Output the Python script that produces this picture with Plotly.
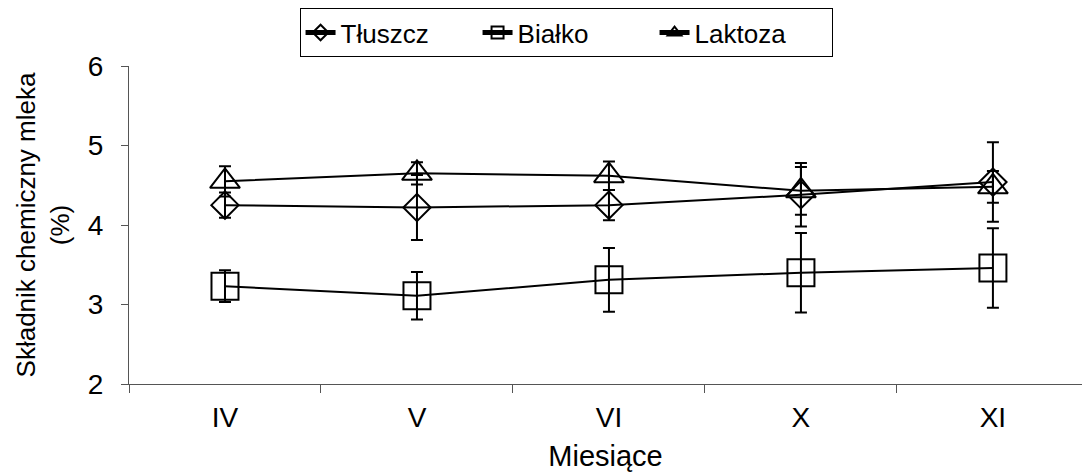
import plotly.graph_objects as go

months = ["IV", "V", "VI", "X", "XI"]
fat = [4.25, 4.22, 4.25, 4.38, 4.54]
fat_err = [0.16, 0.41, 0.19, 0.40, 0.50]
protein = [3.23, 3.11, 3.31, 3.40, 3.46]
protein_err = [0.20, 0.30, 0.40, 0.50, 0.50]
lactose = [4.55, 4.65, 4.62, 4.43, 4.48]
lactose_err = [0.19, 0.14, 0.18, 0.30, 0.20]

names = ["Tłuszcz", "Białko", "Laktoza"]
series = [fat, protein, lactose]
errors = [fat_err, protein_err, lactose_err]
symbols = ["diamond-open", "square-open", "triangle-up-open"]
sizes = [21, 27, 26]

FONT = "Liberation Sans, Arial, sans-serif"

fig = go.Figure()
for n, y, e, s, sz in zip(names, series, errors, symbols, sizes):
    fig.add_trace(go.Scatter(
        x=months, y=y, name=n, mode="lines+markers",
        line=dict(color="black", width=2),
        marker=dict(symbol=s, size=sz, color="black", line=dict(color="black", width=2)),
        error_y=dict(type="data", array=e, visible=True, color="black", thickness=2, width=6),
    ))

fig.update_layout(
    width=1082, height=475,
    margin=dict(l=129, r=0, t=66, b=91),
    plot_bgcolor="white", paper_bgcolor="white",
    font=dict(family=FONT, size=26, color="black"),
    showlegend=True,
    legend=dict(
        orientation="h", x=0.4586, xanchor="center", y=1.182, yanchor="top",
        bordercolor="black", borderwidth=1, bgcolor="white",
        font=dict(size=26), itemsizing="constant", entrywidth=132,
    ),
    xaxis=dict(
        type="category", range=[-0.5, 4.464], tickson="boundaries",
        ticks="outside", ticklen=8, tickcolor="#555", showline=True,
        linecolor="#555", linewidth=1, showgrid=False, zeroline=False,
        tickfont=dict(size=28), ticklabelstandoff=8,
        title=dict(text="Miesiące", font=dict(size=29), standoff=14),
    ),
    yaxis=dict(
        range=[2, 6], tickvals=[2, 3, 4, 5, 6], ticks="outside", ticklen=7,
        tickcolor="#555", showline=True, linecolor="#555", linewidth=1,
        showgrid=False, zeroline=False, tickfont=dict(size=28),
        ticklabelstandoff=12,
        title=dict(text="Składnik chemiczny mleka<br>(%)", font=dict(size=26), standoff=10),
    ),
)

fig.write_html("out.html")
